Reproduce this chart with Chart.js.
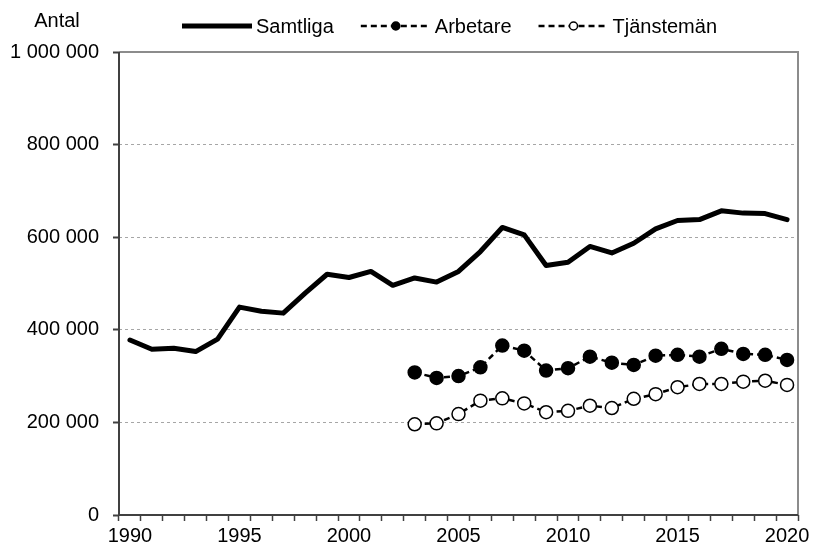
<!DOCTYPE html>
<html>
<head>
<meta charset="utf-8">
<script src="https://cdn.jsdelivr.net/npm/chart.js@4/dist/chart.umd.min.js"></script>
<style>
  html, body { margin: 0; padding: 0; background: #fff; }
  #chart { display: block; }
</style>
</head>
<body>
<canvas id="chart" width="813" height="549"></canvas>
<script>
const years = [];
for (let y = 1990; y <= 2020; y++) years.push(y);

// 1990-2020
const samtliga = [378000, 358000, 360000, 353000, 380000, 449000, 440000, 436000, 479000, 520000,
  513000, 526000, 496000, 512000, 503000, 526000, 569000, 621000, 605000, 539000,
  546000, 580000, 566000, 587000, 618000, 636000, 638000, 657000, 652000, 651000, 638000];

// 2003-2020 (null before)
const arbetare = [null, null, null, null, null, null, null, null, null, null, null, null, null,
  308000, 296000, 300000, 319000, 366000, 355000, 312000, 317000, 342000, 329000, 324000,
  344000, 346000, 342000, 359000, 348000, 346000, 335000];

const tjansteman = [null, null, null, null, null, null, null, null, null, null, null, null, null,
  196000, 198000, 218000, 247000, 252000, 241000, 222000, 225000, 236000, 231000, 251000,
  261000, 276000, 283000, 283000, 288000, 290000, 281000];

const yTicks = [0, 200000, 400000, 600000, 800000, 1000000];

const FONT = '"Liberation Sans", Arial, sans-serif';

function fmt(v) {
  return String(v).replace(/\B(?=(\d{3})+(?!\d))/g, " ");
}

const framePlugin = {
  id: "frame",
  afterDraw(chart) {
    const { ctx, chartArea: a } = chart;
    ctx.save();
    // top + right border
    ctx.strokeStyle = "#8c8c8c";
    ctx.lineWidth = 2;
    ctx.beginPath();
    ctx.moveTo(a.left, a.top);
    ctx.lineTo(a.right, a.top);
    ctx.lineTo(a.right, a.bottom);
    ctx.stroke();
    // axes
    ctx.strokeStyle = "#404040";
    ctx.beginPath();
    ctx.moveTo(a.left, a.top);
    ctx.lineTo(a.left, a.bottom);
    ctx.lineTo(a.right, a.bottom);
    ctx.stroke();

    // axis title
    ctx.fillStyle = "#000";
    ctx.font = "20px " + FONT;
    ctx.textAlign = "center";
    ctx.textBaseline = "middle";
    ctx.fillText("Antal", 57, 21);

    // legend
    const ly = 26;
    let x = 182;
    chart.data.datasets.forEach(ds => {
      const w = 70;
      ctx.strokeStyle = "#000";
      ctx.lineWidth = ds.legendWidth;
      ctx.setLineDash(ds.borderDash || []);
      ctx.beginPath();
      ctx.moveTo(x, ly);
      ctx.lineTo(x + w, ly);
      ctx.stroke();
      ctx.setLineDash([]);
      if (ds.pointRadius > 0) {
        ctx.beginPath();
        ctx.arc(x + w / 2, ly, 4, 0, Math.PI * 2);
        ctx.fillStyle = ds.pointBackgroundColor;
        ctx.fill();
        ctx.lineWidth = 1.5;
        ctx.stroke();
      }
      ctx.fillStyle = "#000";
      ctx.textAlign = "left";
      ctx.fillText(ds.label, x + w + 4, ly + 1);
      x += w + 4 + ctx.measureText(ds.label).width + 27;
    });
    ctx.restore();
  }
};

new Chart(document.getElementById("chart"), {
  type: "line",
  data: {
    labels: years,
    datasets: [
      { label: "Samtliga", data: samtliga, borderColor: "#000", borderWidth: 5, legendWidth: 5,
        pointRadius: 0, borderJoinStyle: "round", borderCapStyle: "round" },
      { label: "Arbetare", data: arbetare, borderColor: "#000", borderWidth: 2.5, legendWidth: 2.5,
        borderDash: [6, 4], pointRadius: 6.5, pointBackgroundColor: "#000",
        pointBorderColor: "#000", pointBorderWidth: 1.5 },
      { label: "Tjänstemän", data: tjansteman, borderColor: "#000", borderWidth: 2.5, legendWidth: 2.5,
        borderDash: [6, 4], pointRadius: 6.5, pointBackgroundColor: "#fff",
        pointBorderColor: "#000", pointBorderWidth: 1.5 }
    ]
  },
  options: {
    responsive: false,
    animation: false,
    layout: { padding: { top: 52, right: 15, left: 0, bottom: 0 } },
    plugins: { legend: { display: false }, tooltip: { enabled: false } },
    scales: {
      x: {
        offset: true,
        afterFit(s) { s.height = 34; },
        grid: { offset: true, drawOnChartArea: false, drawTicks: true, tickLength: 6,
          tickColor: "#404040", tickWidth: 1.5 },
        border: { display: false },
        ticks: {
          autoSkip: false, maxRotation: 0, padding: 3, color: "#000",
          font: { family: FONT, size: 20 },
          callback: (v, i) => years[i] % 5 === 0 ? String(years[i]) : ""
        }
      },
      y: {
        min: 0,
        max: 1000000,
        afterFit(s) { s.width = 119; },
        afterBuildTicks(s) { s.ticks = yTicks.map(v => ({ value: v })); },
        grid: {
          color: c => (c.tick && (c.tick.value === 0 || c.tick.value === 1000000)) ? "rgba(0,0,0,0)" : "#a6a6a6",
          lineWidth: 1, borderDash: [3, 3], tickLength: 6, tickColor: "#404040", tickWidth: 2,
          tickBorderDash: []
        },
        border: { display: false, dash: [3, 3] },
        ticks: {
          padding: 14, color: "#000",
          font: { family: FONT, size: 20 },
          callback: v => fmt(v)
        }
      }
    }
  },
  plugins: [framePlugin]
});
</script>
</body>
</html>
